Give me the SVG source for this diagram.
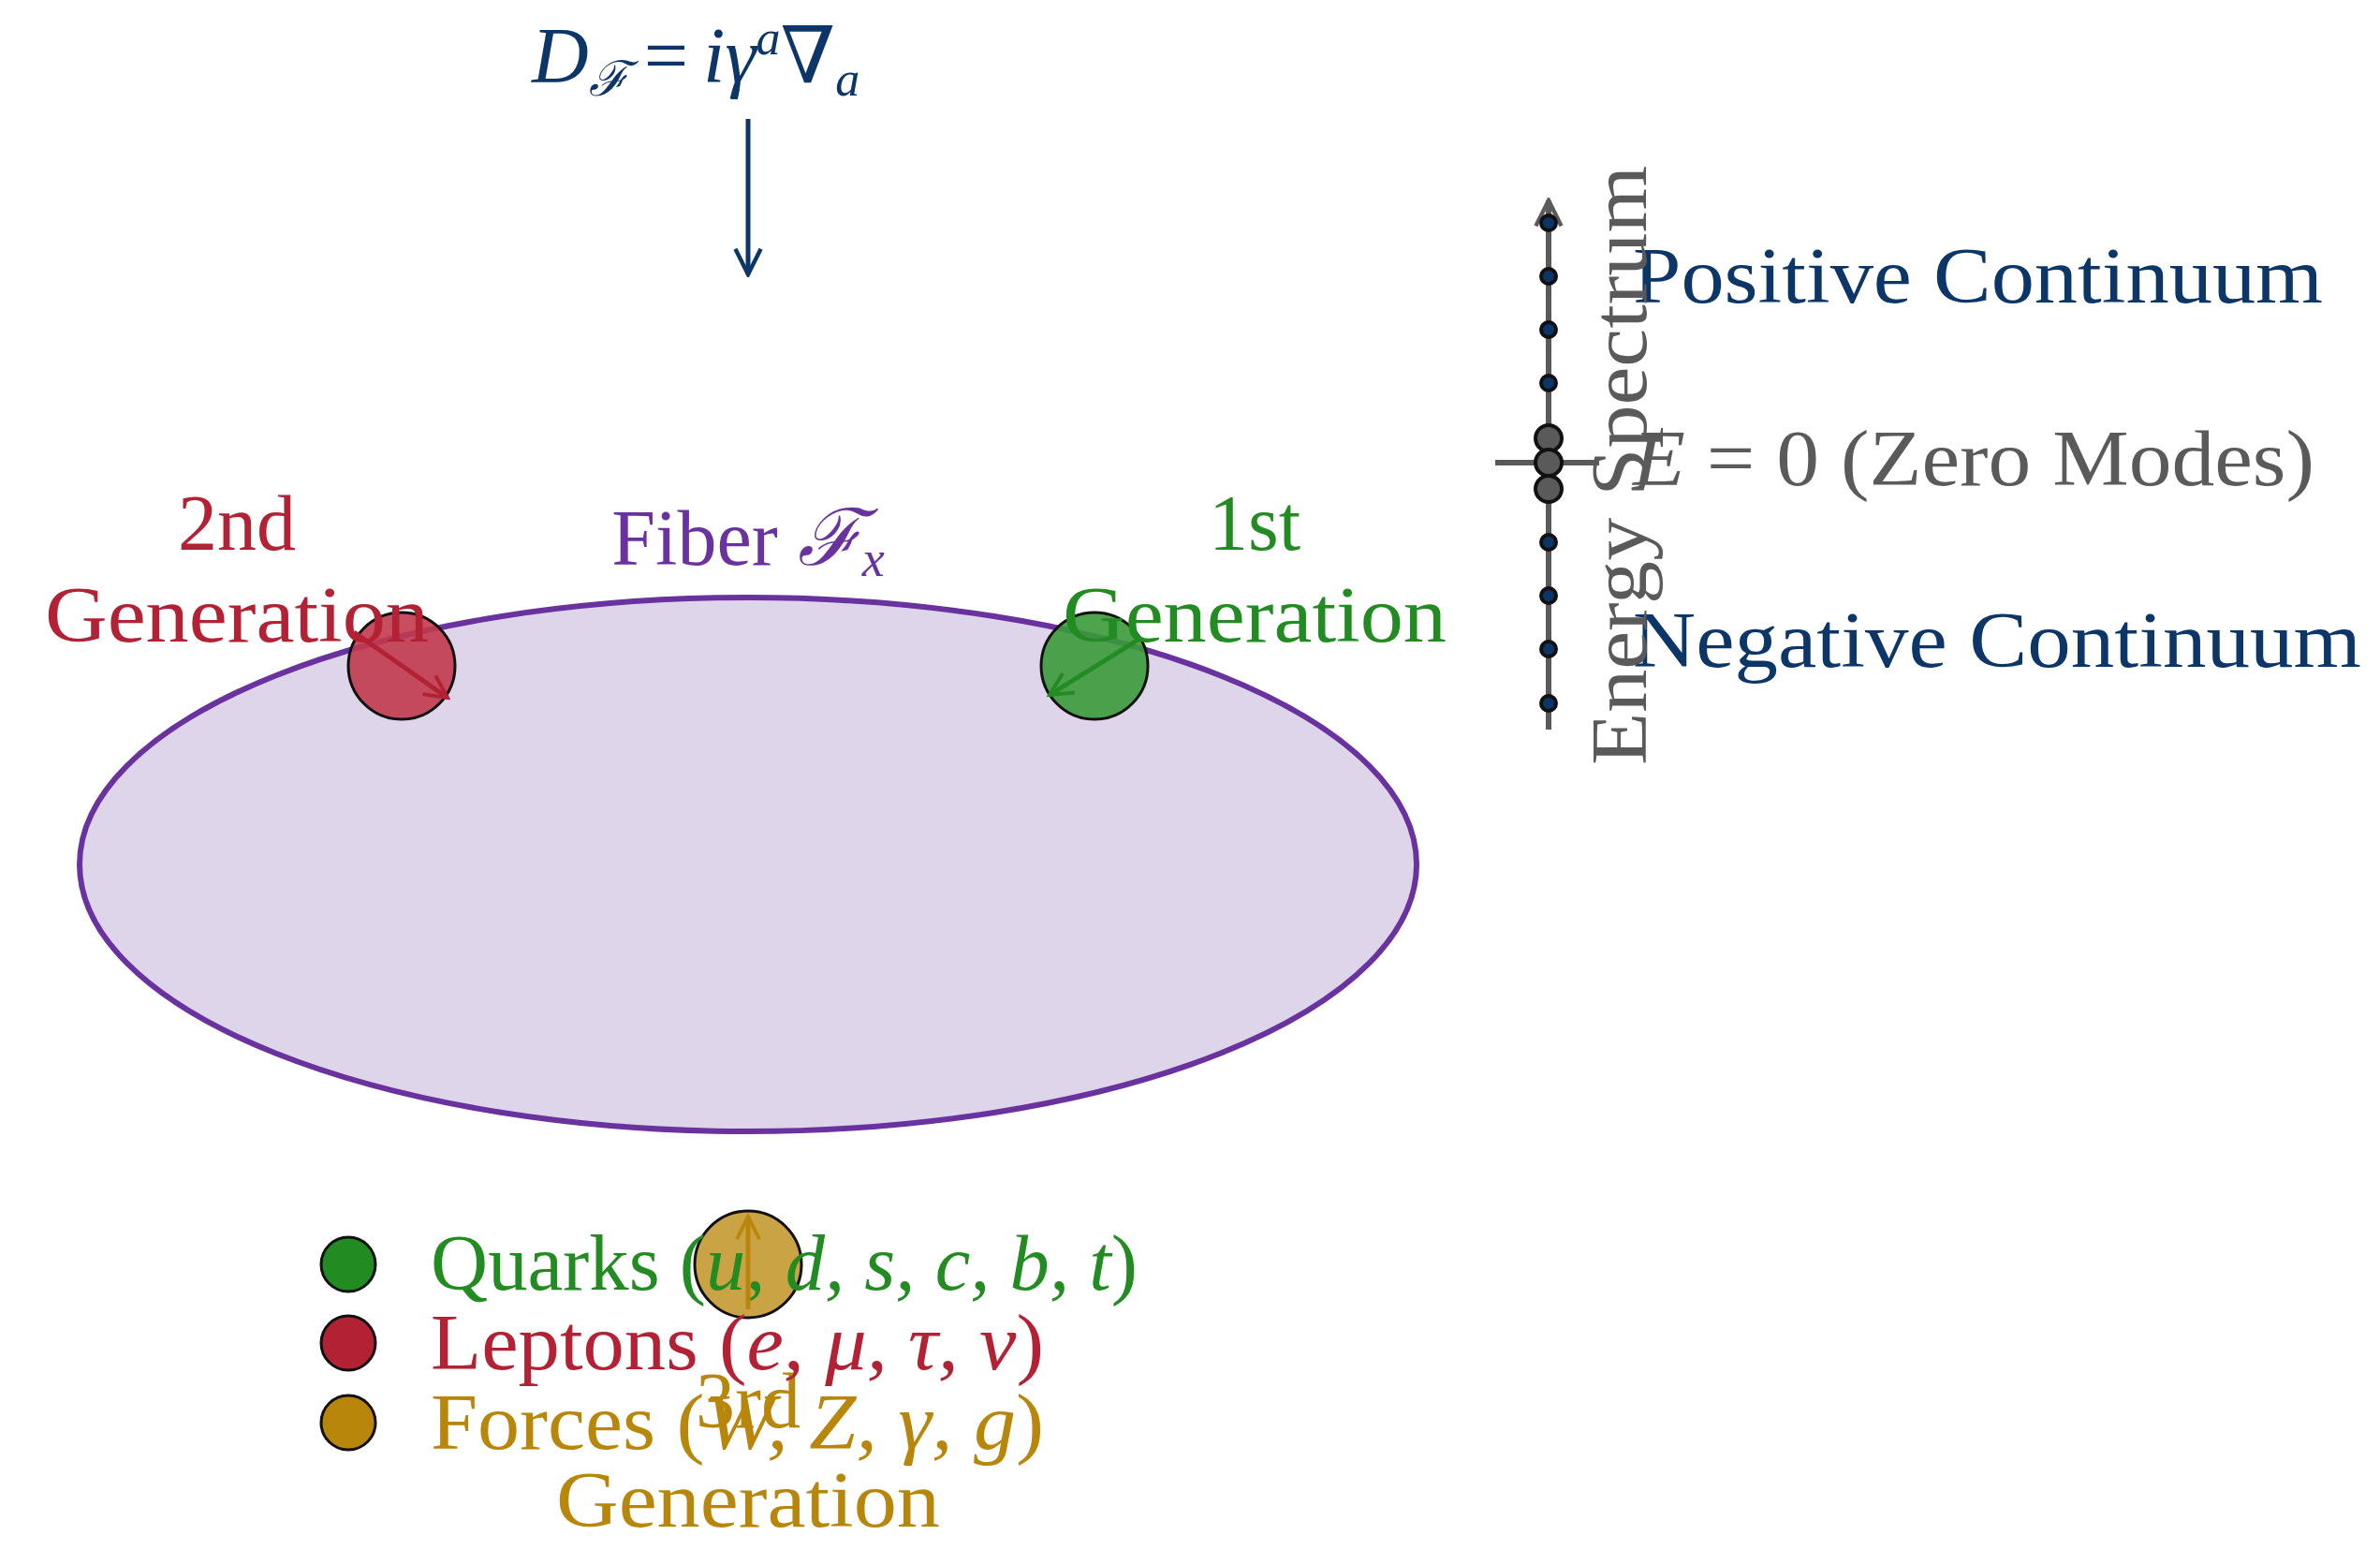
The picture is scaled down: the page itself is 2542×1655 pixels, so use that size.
<svg xmlns="http://www.w3.org/2000/svg" width="2542" height="1655" viewBox="0 0 2542 1655">
<style>
text{font-family:"Liberation Serif","DejaVu Serif",serif;font-size:84px}
.it{font-style:italic}
.navy{fill:#0c3668}.red{fill:#b22234}.grn{fill:#228b22}.gold{fill:#b8860b}.pur{fill:#6a329f}.gray{fill:#5a5a5a}
.dot{fill:#0c3668;stroke:#111;stroke-width:4}
.zm{fill:#5a5a5a;stroke:#111;stroke-width:4}
</style>
<defs>
<marker id="an" viewBox="0 0 10 10" refX="9" refY="5" markerWidth="34" markerHeight="34" markerUnits="userSpaceOnUse" orient="auto"><path d="M1,1 L9,5 L1,9" fill="none" stroke="#0c3668" stroke-width="1.3"/></marker>
<marker id="ar" viewBox="0 0 10 10" refX="9" refY="5" markerWidth="30" markerHeight="30" markerUnits="userSpaceOnUse" orient="auto"><path d="M1,1 L9,5 L1,9" fill="none" stroke="#b22234" stroke-width="1.3"/></marker>
<marker id="ag" viewBox="0 0 10 10" refX="9" refY="5" markerWidth="30" markerHeight="30" markerUnits="userSpaceOnUse" orient="auto"><path d="M1,1 L9,5 L1,9" fill="none" stroke="#228b22" stroke-width="1.3"/></marker>
<marker id="ao" viewBox="0 0 10 10" refX="9" refY="5" markerWidth="30" markerHeight="30" markerUnits="userSpaceOnUse" orient="auto"><path d="M1,1 L9,5 L1,9" fill="none" stroke="#b8860b" stroke-width="1.3"/></marker>
<marker id="ay" viewBox="0 0 10 10" refX="9" refY="5" markerWidth="34" markerHeight="34" markerUnits="userSpaceOnUse" orient="auto"><path d="M1,1 L9,5 L1,9" fill="none" stroke="#5a5a5a" stroke-width="1.3"/></marker>
</defs>
<rect width="2542" height="1655" fill="#fff"/>
<g id="title"><text x="568" y="88" class="navy it" font-size="80">D<tspan font-size="52" dy="14">ℱ</tspan><tspan dy="-14" font-style="normal" dx="16">=</tspan><tspan dx="16">iγ</tspan><tspan font-size="52" dy="-30">a</tspan><tspan dy="30" font-style="normal">∇</tspan><tspan font-size="52" dy="14">a</tspan></text></g>
<g id="fiber">
<ellipse cx="799" cy="923" rx="714" ry="285" fill="#ded5ea" stroke="#6a329f" stroke-width="6"/>
<text x="799" y="603" text-anchor="middle" class="pur">Fiber <tspan class="it">ℱ</tspan><tspan class="it" font-size="54" dy="12">x</tspan></text>
</g>
<g id="gen2">
<circle cx="429" cy="711" r="57" fill="#c23a4c" fill-opacity="0.9" stroke="#111" stroke-width="3"/>
<text x="253" y="587" text-anchor="middle" class="red">2nd</text>
<text x="253" y="685" text-anchor="middle" class="red" textLength="410" lengthAdjust="spacingAndGlyphs">Generation</text>
</g>
<g id="gen1">
<circle cx="1169" cy="711" r="57" fill="#3a9a3a" fill-opacity="0.9" stroke="#111" stroke-width="3"/>
<text x="1340" y="587" text-anchor="middle" class="grn">1st</text>
<text x="1340" y="685" text-anchor="middle" class="grn" textLength="410" lengthAdjust="spacingAndGlyphs">Generation</text>
</g>
<g id="gen3">
<circle cx="799" cy="1350" r="57" fill="#c49a30" fill-opacity="0.9" stroke="#111" stroke-width="3"/>
<text x="799" y="1524" text-anchor="middle" class="gold">3rd</text>
<text x="799" y="1630" text-anchor="middle" class="gold" textLength="410" lengthAdjust="spacingAndGlyphs">Generation</text>
</g>
<g id="legend">
<circle cx="372" cy="1350" r="29" fill="#228b22" stroke="#111" stroke-width="3"/>
<circle cx="372" cy="1434" r="29" fill="#b22234" stroke="#111" stroke-width="3"/>
<circle cx="372" cy="1519" r="29" fill="#b8860b" stroke="#111" stroke-width="3"/>
<text x="460" y="1377" class="grn" textLength="755" lengthAdjust="spacingAndGlyphs">Quarks (<tspan class="it">u, d, s, c, b, t</tspan>)</text>
<text x="460" y="1462" class="red" textLength="655" lengthAdjust="spacingAndGlyphs">Leptons (<tspan class="it">e, μ, τ, ν</tspan>)</text>
<text x="460" y="1547" class="gold" textLength="655" lengthAdjust="spacingAndGlyphs">Forces (<tspan class="it">W, Z, γ, g</tspan>)</text>
</g>
<g id="spectrum">
<line x1="1654" y1="779" x2="1654" y2="214" stroke="#5a5a5a" stroke-width="6" marker-end="url(#ay)"/>
<line x1="1597" y1="494" x2="1708" y2="494" stroke="#5a5a5a" stroke-width="6"/>
<circle class="dot" cx="1654" cy="238" r="8"/><circle class="dot" cx="1654" cy="295" r="8"/><circle class="dot" cx="1654" cy="352" r="8"/><circle class="dot" cx="1654" cy="409" r="8"/>
<circle class="dot" cx="1654" cy="579" r="8"/><circle class="dot" cx="1654" cy="636" r="8"/><circle class="dot" cx="1654" cy="693" r="8"/><circle class="dot" cx="1654" cy="751" r="8"/>
<circle class="zm" cx="1654" cy="468" r="14"/><circle class="zm" cx="1654" cy="494" r="14"/><circle class="zm" cx="1654" cy="522" r="14"/>
<text x="1744" y="323" class="navy" textLength="737" lengthAdjust="spacingAndGlyphs">Positive Continuum</text>
<text x="1744" y="518" class="gray" textLength="728" lengthAdjust="spacingAndGlyphs"><tspan class="it">E</tspan> = 0 (Zero Modes)</text>
<text x="1744" y="712" class="navy" textLength="778" lengthAdjust="spacingAndGlyphs">Negative Continuum</text>
<text transform="translate(1758,497) rotate(-90)" text-anchor="middle" class="gray" textLength="640" lengthAdjust="spacingAndGlyphs">Energy Spectrum</text>
</g>
<g id="connectors" fill="none" stroke-width="5">
<line x1="799" y1="127" x2="799" y2="293" stroke="#0c3668" marker-end="url(#an)"/>
<line x1="378" y1="675" x2="478" y2="745" stroke="#b22234" marker-end="url(#ar)"/>
<line x1="1219" y1="681" x2="1121" y2="742" stroke="#228b22" marker-end="url(#ag)"/>
<line x1="799" y1="1398" x2="799" y2="1299" stroke="#b8860b" marker-end="url(#ao)"/>
</g>
</svg>
